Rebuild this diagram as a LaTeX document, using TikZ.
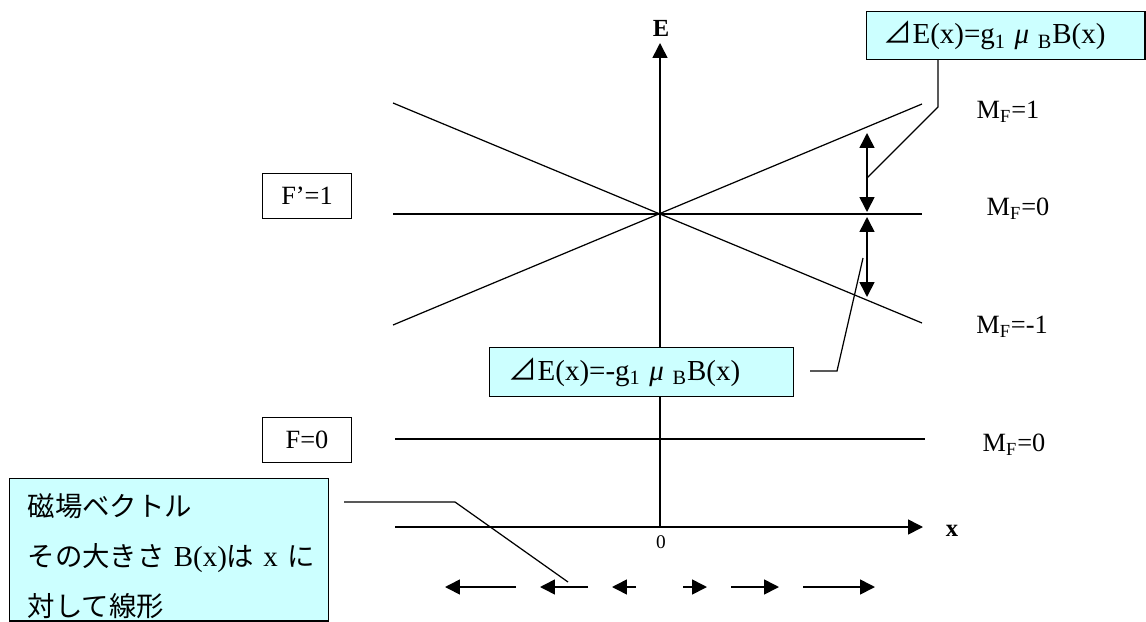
\documentclass[tikz,border=0pt]{standalone}
\usepackage{fontspec}
\setmainfont{Liberation Serif}
\newfontfamily\cjk{Noto Sans CJK JP}
\usetikzlibrary{arrows.meta}
\definecolor{ink}{HTML}{000000}
\definecolor{callbg}{HTML}{CCFFFF}
\tikzset{
  every node/.style={font=\fontsize{15}{18}\selectfont, text=ink},
  level/.style={draw=ink, line width=0.7pt},
  axis/.style={-{Triangle[length=8.5pt, width=8.5pt]}, line width=0.9pt, draw=ink},
  arr/.style={-{Triangle[length=8.5pt, width=8.5pt]}, line width=0.9pt, draw=ink},
  darr/.style={{Triangle[length=8.5pt, width=8.5pt]}-{Triangle[length=8.5pt, width=8.5pt]}, line width=0.9pt, draw=ink},
  lead/.style={draw=ink, line width=0.7pt},
  fbox/.style={draw=ink, line width=0.7pt, minimum width=50.5pt, minimum height=25.5pt, inner sep=0pt},
  callout/.style={draw=ink, line width=0.8pt, fill=callbg, align=left, inner ysep=0pt, anchor=north west},
  axlbl/.style={font=\fontsize{14}{16}\selectfont\bfseries},
}
\newcommand{\lat}[1]{{\fontsize{16.5}{28.4}\selectfont #1}}

\begin{document}
\begin{tikzpicture}[x=0.02cm, y=-0.02cm]
\path[use as bounding box, clip] (0,0) rectangle (1146,622);

% --- axes ---
\coordinate (O) at (660,527);
\coordinate (Etip) at (660,43);
\coordinate (xstart) at (395,527);
\coordinate (xtip) at (923,527);
\draw[axis] (O) -- (Etip);
\draw[axis] (xstart) -- (xtip);
\node[axlbl] (Elbl) at (661,28) {E};
\node[axlbl] (xlbl) at (952,531) {x};
\node[font=\fontsize{11}{13}\selectfont] (zero) at (661,542) {0};

% --- levels F'=1 and F=0 ---
\coordinate (upL) at (393,325);
\coordinate (upR) at (922,104);
\coordinate (dnL) at (393,103);
\coordinate (dnR) at (922,323);
\coordinate (midL) at (393,214);
\coordinate (midR) at (922,214);
\coordinate (gndL) at (395,439);
\coordinate (gndR) at (925,439);
\draw[level] (upL) -- (upR);
\draw[level] (dnL) -- (dnR);
\draw[level] (midL) -- (midR);
\draw[level] (gndL) -- (gndR);

\node[fbox] (Fexc) at (307,196) {F’=1};
\node[fbox] (Fgnd) at (307,440) {F=0};
\node (mfup) at (1008,112) {M\textsubscript{F}=1};
\node (mfmid) at (1018,209) {M\textsubscript{F}=0};
\node (mfdn) at (1012,327) {M\textsubscript{F}=-1};
\node (mfgnd) at (1014,445) {M\textsubscript{F}=0};

% --- splitting arrows ---
\coordinate (s1) at (867,133);
\coordinate (s2) at (867,212);
\coordinate (s3) at (867,217);
\coordinate (s4) at (867,297);
\draw[darr] (s1) -- (s2);
\draw[darr] (s3) -- (s4);

% --- callouts ---
\node[callout, font=\fontsize{16.5}{19}\selectfont, minimum width=158.3pt, minimum height=27.2pt,
  inner xsep=9.6pt, text width=139.1pt]
  (dEup) at (866,11) {{\cjk ⊿}E(x)=g\textsubscript{1}\hspace{0.3em}\textit{μ}\hspace{0.3em}\textsubscript{B}B(x)};
\coordinate (t1) at (938,107);
\coordinate (t2) at (867,178);
\draw[lead] (dEup.south -| t1) -- (t1) -- (t2);

\node[callout, font=\fontsize{16.5}{19}\selectfont, minimum width=173pt, minimum height=27.8pt,
  inner xsep=10.8pt, text width=151.4pt]
  (dEdn) at (489,347) {{\cjk ⊿}E(x)=-g\textsubscript{1}\hspace{0.3em}\textit{μ}\hspace{0.3em}\textsubscript{B}B(x)};
\coordinate (m0) at (810,371);
\coordinate (m1) at (837,371);
\coordinate (m2) at (863,258);
\draw[lead] (m0) -- (m1) -- (m2);

\node[callout, font=\fontsize{15.6}{28.4}\selectfont, minimum width=181.6pt, inner xsep=10.2pt,
  text width=161.2pt, text height=21.5pt, text depth=59.6pt]
  (bvec) at (9,478) {{\cjk 磁場ベクトル}\\\mbox{{\cjk その大きさ} \lat{B(x)}{\cjk は} \lat{x} {\cjk に}}\\{\cjk 対して線形}};
\coordinate (b0) at (344,502);
\coordinate (b1) at (455,502);
\coordinate (b2) at (568,582);
\draw[lead] (b0) -- (b1) -- (b2);

% --- field vectors along x ---
\foreach \s/\e in {516/445, 588/540, 636/612, 683/707, 731/779, 803/875}
  \draw[arr] (\s,587) -- (\e,587);

\end{tikzpicture}
\end{document}
